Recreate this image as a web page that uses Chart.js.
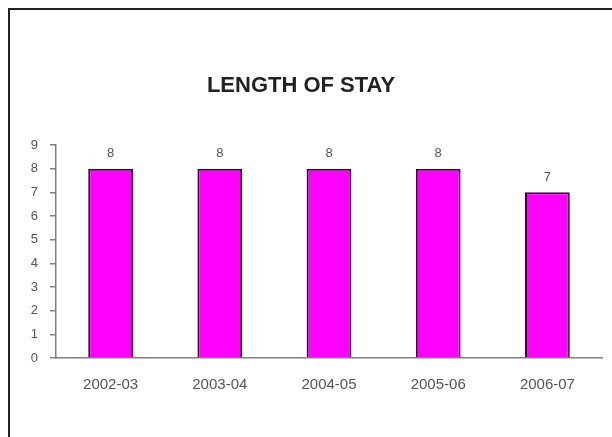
<!DOCTYPE html>
<html>
<head>
<meta charset="utf-8">
<script src="https://cdn.jsdelivr.net/npm/chart.js@4.4.1/dist/chart.umd.min.js"></script>
<style>
    html, body { margin: 0; padding: 0; background: #fff; overflow: hidden; }
    .wrap { position: relative; width: 612px; height: 437px; }
    .frame { position: absolute; left: 8px; top: 8px; width: 700px; height: 600px; border: 2px solid #222; pointer-events: none; }
    canvas { position: absolute; left: 0; top: 0; }
</style>
</head>
<body>
<div class="wrap">
    <canvas id="stayChart" width="612" height="437"></canvas>
    <div class="frame"></div>
</div>
<script>
const years = ["2002-03", "2003-04", "2004-05", "2005-06", "2006-07"];
const stayValues = [8, 8, 8, 8, 7];
const yTicks = [0, 1, 2, 3, 4, 5, 6, 7, 8, 9];

// draws the value above each bar
const valueLabels = {
    id: 'valueLabels',
    afterDatasetsDraw(chart) {
        const {ctx} = chart;
        const meta = chart.getDatasetMeta(0);
        ctx.save();
        ctx.font = '13px "Liberation Sans", Arial, sans-serif';
        ctx.fillStyle = '#555';
        ctx.textAlign = 'center';
        ctx.textBaseline = 'middle';
        meta.data.forEach((bar, i) => {
            ctx.fillText(stayValues[i], bar.x, bar.y - 15);
        });
        ctx.restore();
    }
};

new Chart(document.getElementById('stayChart'), {
    type: 'bar',
    data: {
        labels: years,
        datasets: [{
            data: stayValues,
            backgroundColor: '#FF00FF',
            borderColor: '#3d063d',
            borderWidth: 2,
            categoryPercentage: 1,
            barPercentage: 0.41
        }]
    },
    options: {
        responsive: false,
        animation: false,
        layout: { padding: { top: 0, right: 10, bottom: 25, left: 0 } },
        plugins: {
            legend: { display: false },
            tooltip: { enabled: false },
            title: {
                display: true,
                text: 'LENGTH OF STAY',
                color: '#222',
                font: { family: '"Liberation Sans", Arial, sans-serif', size: 22, weight: 'bold' },
                padding: { top: 73, bottom: 45.6 }
            }
        },
        scales: {
            x: {
                grid: { display: false, drawTicks: false, tickLength: 0 },
                border: { display: true, color: '#808080', width: 1.5 },
                ticks: {
                    color: '#555',
                    padding: 18,
                    maxRotation: 0,
                    font: { family: '"Liberation Sans", Arial, sans-serif', size: 15 }
                }
            },
            y: {
                min: 0,
                max: 9,
                afterFit: s => { s.width = 56; },
                afterBuildTicks: s => { s.ticks = yTicks.map(v => ({value: v})); },
                grid: { drawOnChartArea: false, drawTicks: true, tickLength: 6, color: '#808080', lineWidth: 1.5 },
                border: { display: true, color: '#808080', width: 1.5 },
                ticks: {
                    color: '#555',
                    padding: 12,
                    font: { family: '"Liberation Sans", Arial, sans-serif', size: 13 }
                }
            }
        }
    },
    plugins: [valueLabels]
});
</script>
</body>
</html>
